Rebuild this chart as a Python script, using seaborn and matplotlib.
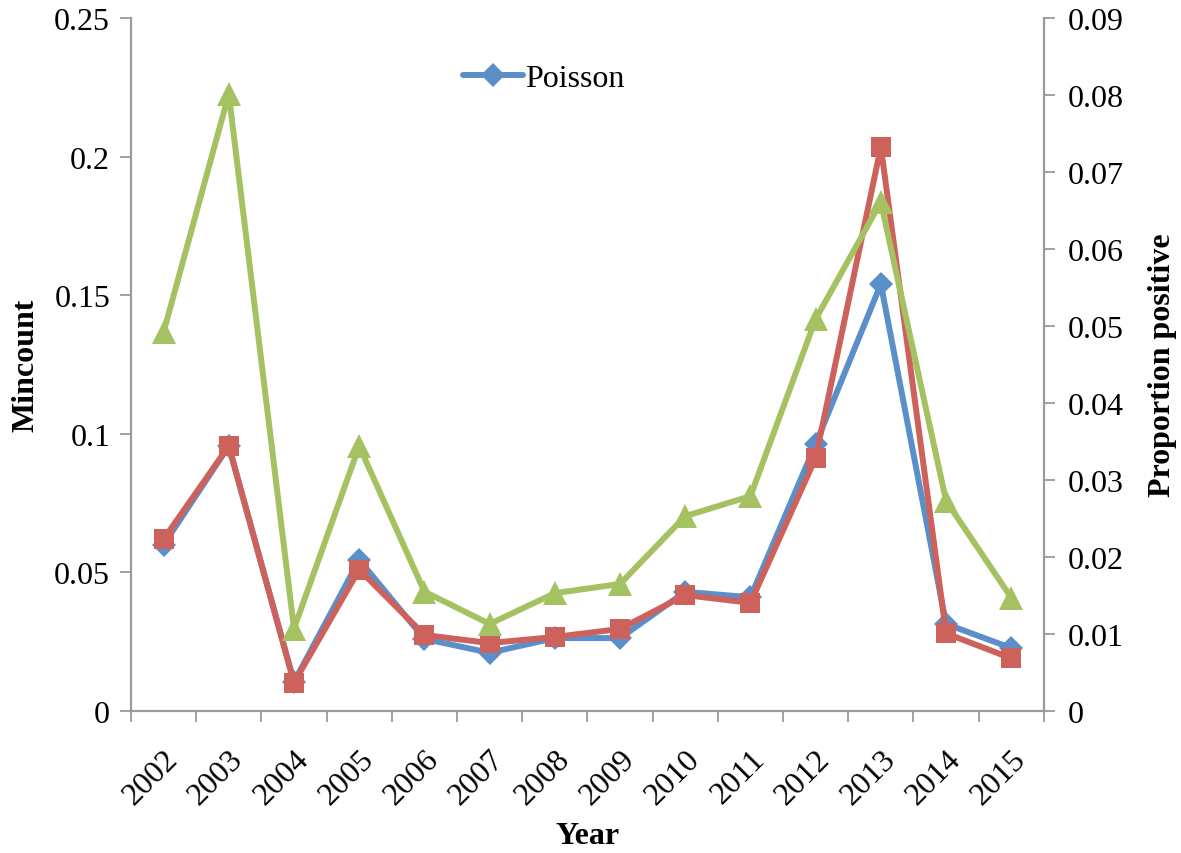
import matplotlib
matplotlib.use("Agg")
import matplotlib.pyplot as plt
import seaborn as sns
import pandas as pd
import numpy as np

# values
years = ["2002", "2003", "2004", "2005", "2006", "2007", "2008",
         "2009", "2010", "2011", "2012", "2013", "2014", "2015"]
poisson = [0.060, 0.0956, 0.0105, 0.0545, 0.026, 0.021, 0.0263,
           0.0263, 0.043, 0.041, 0.0963, 0.154, 0.0314, 0.0227]
second_model = [0.062, 0.0956, 0.0102, 0.051, 0.0274, 0.0245, 0.0267,
                0.0296, 0.0418, 0.039, 0.0913, 0.2035, 0.028, 0.019]
prop_positive = [0.0492, 0.0801, 0.0107, 0.0344, 0.0155, 0.0113, 0.0153,
                 0.0165, 0.0253, 0.0279, 0.0509, 0.0661, 0.0273, 0.0147]

df = pd.DataFrame({
    "pos": np.arange(len(years)),
    "year": years,
    "poisson": poisson,
    "second": second_model,
    "prop": prop_positive,
})

sns.set_style("white")
plt.rcParams["font.family"] = ["Liberation Serif", "DejaVu Serif"]
plt.rcParams["text.color"] = "black"
plt.rcParams["axes.labelcolor"] = "black"
plt.rcParams["xtick.labelcolor"] = "black"
plt.rcParams["ytick.labelcolor"] = "black"

blue = "#5B8FC9"
red = "#CD625C"
green = "#A5C262"
grey = "#9A9A9A"
fs = 23

fig = plt.figure(figsize=(11.81, 8.54), dpi=100)
ax = fig.add_axes([0.1109, 0.1663, 0.773, 0.8115])

sns.lineplot(data=df, x="pos", y="poisson", ax=ax, color=blue, linewidth=4.3,
             marker="D", markersize=12, markeredgewidth=0, label="Poisson")
sns.lineplot(data=df, x="pos", y="second", ax=ax, color=red, linewidth=4.3,
             marker="s", markersize=15, markeredgewidth=0, label="_nolegend_")

ax2 = ax.twinx()
sns.lineplot(data=df, x="pos", y="prop", ax=ax2, color=green, linewidth=4.3,
             marker="^", markersize=17, markeredgewidth=0, legend=False)

ax.set_xlim(-0.5, len(years) - 0.5)
ax.set_ylim(0, 0.25)
ax2.set_ylim(0, 0.09)
ax.set_yticks([0, 0.05, 0.1, 0.15, 0.2, 0.25])
ax.set_yticklabels(["0", "0.05", "0.1", "0.15", "0.2", "0.25"])
ax2.set_yticks(np.arange(0, 0.0901, 0.01))
ax2.set_yticklabels(["0"] + [f"{v:.2f}" for v in np.arange(0.01, 0.0901, 0.01)])

# x ticks: marks at category boundaries, labels at centres
ax.set_xticks(df["pos"])
ax.set_xticklabels(years, rotation=45, ha="right", rotation_mode="anchor")
ax.set_xticks(np.arange(-0.5, len(years)), minor=True)
ax.tick_params(axis="x", which="major", length=0, pad=24, labelsize=fs)
ax.tick_params(axis="x", which="minor", length=8, width=1.3, color=grey,
               direction="out", bottom=True)
ax.tick_params(axis="y", length=8, width=1.3, color=grey, direction="out",
               labelsize=fs, pad=7, left=True)
ax2.tick_params(axis="y", length=8, width=1.3, color=grey, direction="out",
                labelsize=fs, pad=9, right=True)

for a in (ax, ax2):
    a.spines["top"].set_visible(False)
    for s in ("left", "right", "bottom"):
        a.spines[s].set_color(grey)
        a.spines[s].set_linewidth(1.5)

ax.set_xlabel("Year", fontsize=fs, fontweight="bold", labelpad=8)
ax.set_ylabel("Mincount", fontsize=fs, fontweight="bold", labelpad=10)
ax2.set_ylabel("Proportion positive", fontsize=fs, fontweight="bold", labelpad=18)

ax.legend(loc="upper center", bbox_to_anchor=(0.452, 0.975), frameon=False,
          fontsize=fs, handlelength=1.9, handletextpad=0.05)

ax.grid(False)
ax2.grid(False)

fig.savefig("out.png", dpi=100)
